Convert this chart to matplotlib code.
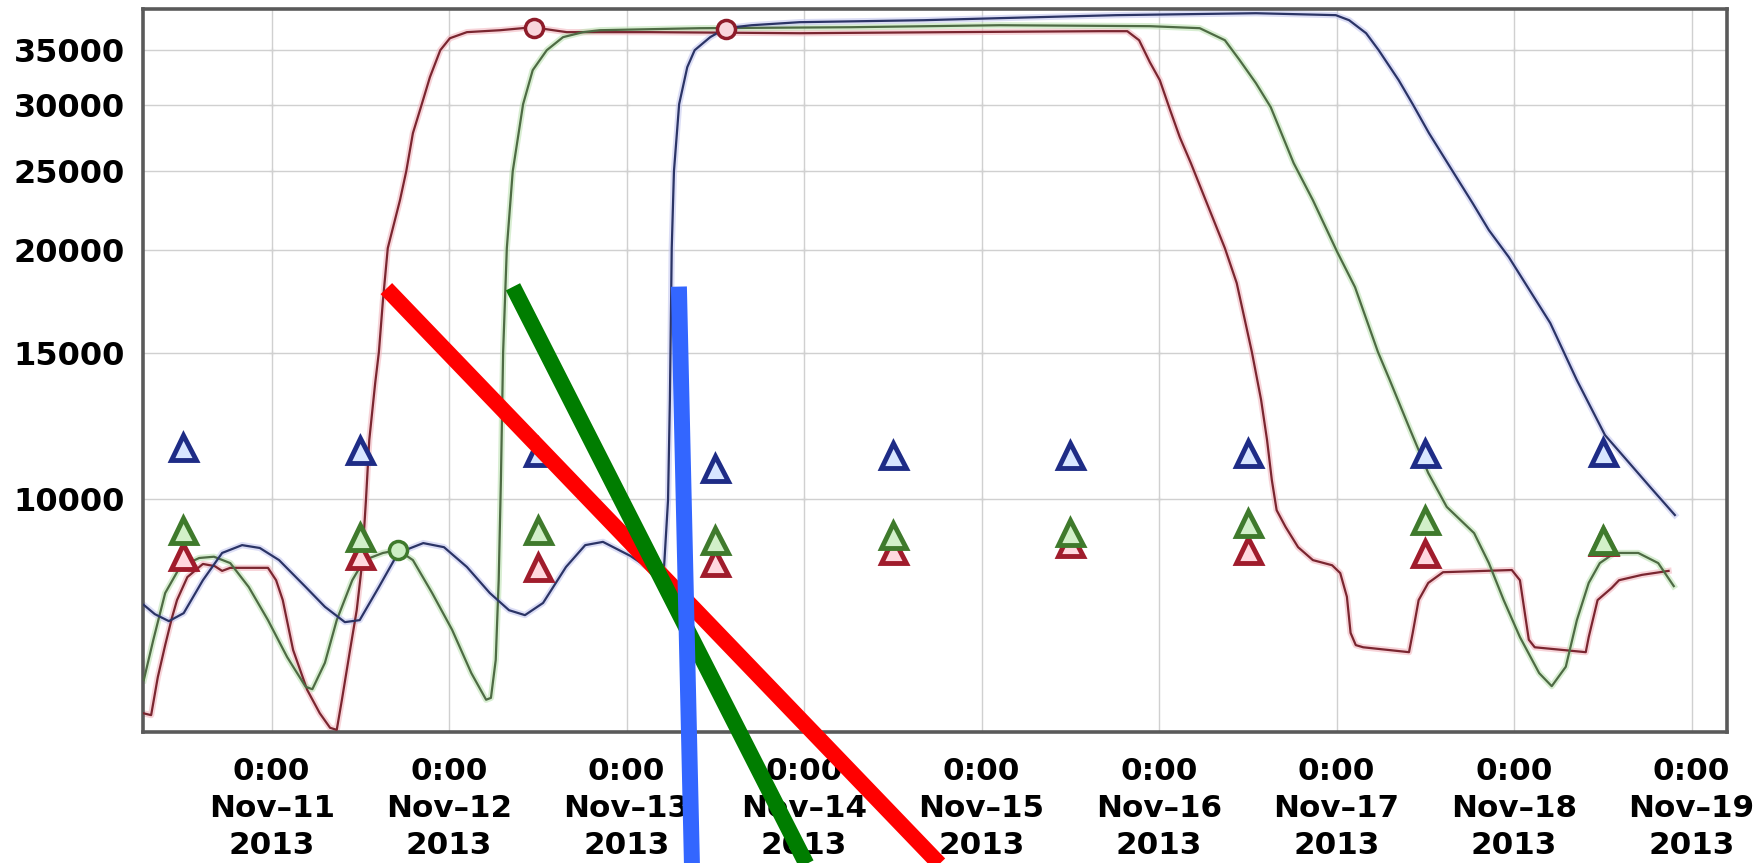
import matplotlib
matplotlib.use("Agg")
import matplotlib.pyplot as plt
import matplotlib.dates as mdates
from matplotlib.ticker import FixedLocator, NullLocator, FuncFormatter
from datetime import datetime, timedelta

BASE = datetime(2013, 11, 10)  # hours below are counted from Nov-10 0:00

red_hours = [6.6, 7.7, 8.6, 9.6, 10.5, 11.2, 12.6, 14.7, 16.3, 17.3, 18.4, 23.5, 24.6, 25.5, 26.9,
             28.8, 30.5, 31.9, 32.8, 33.5, 34.6, 35.5, 36.2, 36.75, 37.2, 38.0, 38.5, 39.05, 39.7, 41.35,
             42.2, 43.1, 44.3, 45.4, 46.8, 48.1, 50.4, 54.9, 59.3, 63.9, 75.2, 95.4, 115.7, 136.0, 139.7,
             141.3, 142.75, 144.1, 145.5, 146.8, 148.3, 150.3, 152.9, 154.5, 156.55, 157.8, 158.6, 159.25,
             159.9, 161.1, 162.8, 164.8, 167.4, 168.5, 169.4, 169.9, 170.6, 171.6, 177.8, 178.3, 179.1, 180.4,
             182.4, 191.7, 192.8, 193.2, 194.0, 194.8, 201.7, 202.1, 203.3, 205.2, 206.2, 209.3, 212.9]
red_values = [5490, 5460, 6070, 6640, 7160, 7530, 8030, 8330, 8280, 8170, 8240, 8240, 7960, 7530, 6550,
              5860, 5490, 5270, 5240, 5700, 6550, 7320, 8300, 9960, 11780, 13810, 15060, 17410, 20130, 23020,
              24960, 27760, 30100, 32460, 35000, 36190, 36810, 37010, 37320, 36810, 36810, 36700, 36810, 36910, 36910,
              35990, 33850, 32190, 29600, 27450, 25530, 23020, 20130, 18260, 15060, 13170, 11780, 10530,
              9680, 9240, 8730, 8420, 8300, 8120, 7600, 6870, 6640, 6600, 6510, 6870, 7530, 7900,
              8140, 8190, 7960, 7530, 6740, 6600, 6510, 6790, 7530, 7790, 7960, 8080, 8170]

green_hours = [6.7, 8.0, 9.6, 11.6, 14.2, 16.2, 18.4, 20.9, 23.5, 26.1, 28.6, 29.5, 31.2, 32.8, 34.9,
               36.5, 39.05, 41.1, 43.1, 45.7, 48.4, 51.0, 53.0, 53.65, 54.3, 54.7, 55.0, 55.3, 55.8, 56.6,
               58.0, 59.3, 61.2, 63.4, 66.1, 68.4, 81.9, 102.2, 122.5, 142.8, 149.5, 152.9, 154.9, 157.1,
               159.1, 162.2, 164.8, 168.1, 170.5, 173.6, 175.2, 177.8, 180.4, 182.9, 186.6, 188.6, 190.6,
               192.8, 195.4, 197.1, 199.0, 200.5, 202.1, 203.6, 205.6, 208.8, 211.5, 213.6]
green_values = [6020, 6740, 7680, 8260, 8470, 8500, 8350, 7810, 7120, 6420, 5910, 5870, 6320, 7120, 7960,
                8420, 8590, 8660, 8420, 7680, 6930, 6140, 5700, 5730, 6370, 7960, 10530, 15060, 20130, 24960,
                30100, 33100, 35000, 36300, 36810, 37010, 37220, 37320, 37530, 37430, 37220, 35990, 34040, 31920,
                29850, 25530, 23020, 19910, 18050, 15060, 13920, 12210, 10740, 9770, 9080, 8350, 7530,
                6790, 6140, 5920, 6250, 7120, 7900, 8350, 8590, 8590, 8350, 7830]

blue_hours = [6.7, 8.2, 10.1, 12.1, 14.7, 17.3, 20.0, 22.4, 25.0, 28.6, 31.2, 33.9, 35.9, 38.5, 41.1,
              44.5, 47.3, 50.4, 53.5, 56.1, 58.25, 60.7, 63.8, 66.4, 68.8, 72.5, 75.8, 77.0, 77.6, 77.85,
              78.1, 78.4, 79.1, 80.2, 81.2, 83.3, 85.4, 88.9, 95.4, 112.2, 122.5, 138.2, 157.1, 167.9, 169.7,
              172.0, 173.7, 176.4, 178.3, 180.5, 183.7, 186.4, 188.6, 191.3, 196.9, 200.5, 204.3, 207.0,
              210.4, 213.75]
blue_values = [7430, 7240, 7100, 7260, 7960, 8590, 8780, 8710, 8420, 7810, 7390, 7080, 7120, 7810, 8590,
               8830, 8730, 8260, 7680, 7320, 7220, 7470, 8260, 8780, 8860, 8520, 8140, 8080, 9960, 13170,
               20130, 24960, 30100, 33380, 35000, 36300, 37220, 37530, 37850, 38060, 38280, 38600, 38810, 38600, 38060,
               36700, 35000, 32190, 30100, 27760, 24960, 22830, 21170, 19630, 16330, 13920, 11940, 11200,
               10330, 9550]

# triangle markers, one per day at noon (Nov-10 ... Nov-18)
tri_hours = [12, 36, 60, 84, 108, 132, 156, 180, 204]
tri_blue = [11560, 11450, 11380, 10890, 11290, 11290, 11350, 11370, 11400]
tri_green = [9160, 8990, 9160, 8900, 9030, 9120, 9330, 9420, 8900]
tri_red = [8520, 8540, 8270, 8380, 8660, 8820, 8660, 8580, 8880]

# open circle markers
circ_red_hours = [59.46, 85.43]
circ_red_values = [37290, 37180]
circ_green_hours = [41.04]
circ_green_values = [8660]

# thick annotation strokes (start, end)
stroke_red_hours = [39.51, 118.97]
stroke_red_values = [17980, 3258]
stroke_green_hours = [56.63, 98.78]
stroke_green_values = [18070, 3258]
stroke_blue_hours = [79.07, 80.94]
stroke_blue_values = [18080, 3258]

y_ticks = [10000, 15000, 20000, 25000, 30000, 35000]
x_tick_days = [11, 12, 13, 14, 15, 16, 17, 18, 19]


def T(hours):
    return [BASE + timedelta(hours=h) for h in hours]


fig = plt.figure(figsize=(17.56, 8.63), dpi=100)
ax = fig.add_axes([0.081264, 0.15214, 0.90222, 0.83743])
ax.set_yscale("log")
ax.set_xlim(BASE + timedelta(hours=6.56), BASE + timedelta(hours=220.8))
ax.set_ylim(5213, 39270)

# grid
ax.yaxis.set_major_locator(FixedLocator(y_ticks))
ax.yaxis.set_minor_locator(NullLocator())
ax.yaxis.set_major_formatter(FuncFormatter(lambda v, p: "%d" % round(v)))
xt = [mdates.date2num(datetime(2013, 11, d)) for d in x_tick_days]
ax.xaxis.set_major_locator(FixedLocator(xt))
ax.xaxis.set_minor_locator(NullLocator())
ax.xaxis.set_major_formatter(FuncFormatter(
    lambda v, p: "0:00\nNov\u2013%d\n2013" % mdates.num2date(v).day))
ax.grid(True, color="#d0d0d0", linewidth=1.0, zorder=0)
ax.set_axisbelow(True)
for xv in xt:
    ax.plot([xv] * len(y_ticks), y_ticks, linestyle="none", marker="+", markersize=4,
            color="#a0a0a0", mew=0.8, zorder=0.5)

ax.tick_params(axis="y", length=0, labelsize=23, pad=13)
ax.tick_params(axis="x", length=0, labelsize=22.3, pad=18)
for lab in ax.get_xticklabels() + ax.get_yticklabels():
    lab.set_fontweight("bold")
for lab in ax.get_xticklabels():
    lab.set_linespacing(1.345)
    lab.set_multialignment("center")

for s in ax.spines.values():
    s.set_color("#5a5a5a")
    s.set_linewidth(2.6)

# curves with light halo
curves = [
    (red_hours, red_values, "#7a2630", "#f2b8c0"),
    (green_hours, green_values, "#4e6b44", "#bfe3b5"),
    (blue_hours, blue_values, "#2b3466", "#c5c8f0"),
]
for h, v, c, halo in curves:
    ax.plot(T(h), v, color=halo, linewidth=4.5, alpha=0.6, zorder=2, solid_joinstyle="round")
for h, v, c, halo in curves:
    ax.plot(T(h), v, color=c, linewidth=1.6, zorder=3, solid_joinstyle="round")

# triangles
ax.plot(T(tri_hours), tri_red, linestyle="none", marker="^", markersize=18, mew=3.5,
        mec="#a01c2c", mfc="#ffd8df", zorder=4)
ax.plot(T(tri_hours), tri_green, linestyle="none", marker="^", markersize=18, mew=3.5,
        mec="#3f7a2c", mfc="#d2f0c9", zorder=5)
ax.plot(T(tri_hours), tri_blue, linestyle="none", marker="^", markersize=18, mew=3.5,
        mec="#1e2c86", mfc="#d8e6ff", zorder=5)

# circles
ax.plot(T(circ_red_hours), circ_red_values, linestyle="none", marker="o", markersize=13, mew=2.5,
        mec="#8e1c2a", mfc="#f8d6dc", zorder=6)
ax.plot(T(circ_green_hours), circ_green_values, linestyle="none", marker="o", markersize=13, mew=2.5,
        mec="#3f7a2c", mfc="#cdeec4", zorder=6)

# thick strokes
ax.plot(T(stroke_red_hours), stroke_red_values, color="#ff0000", linewidth=11.5,
        solid_capstyle="butt", clip_on=False, zorder=10)
ax.plot(T(stroke_green_hours), stroke_green_values, color="#007d00", linewidth=11.5,
        solid_capstyle="butt", clip_on=False, zorder=11)
ax.plot(T(stroke_blue_hours), stroke_blue_values, color="#3366ff", linewidth=11.5,
        solid_capstyle="butt", clip_on=False, zorder=12)

fig.savefig("out.png", dpi=100)
